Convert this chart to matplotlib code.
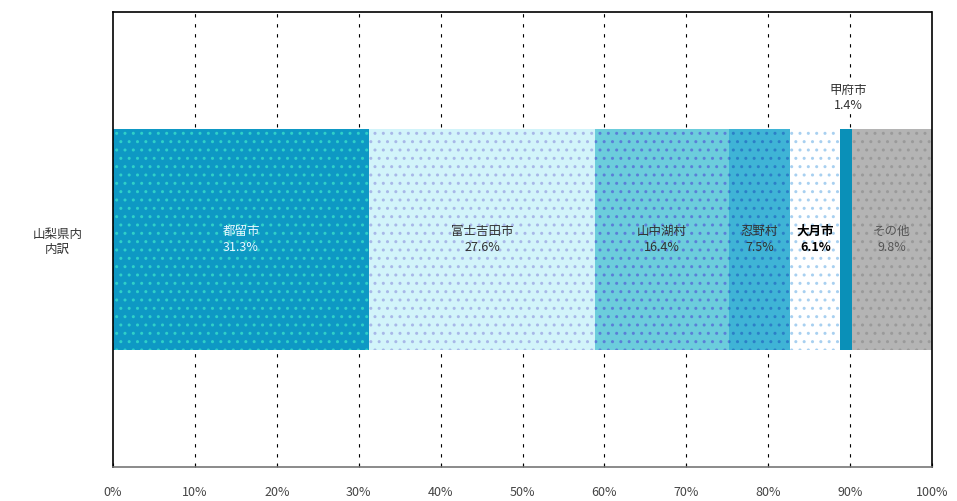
import matplotlib
matplotlib.use("Agg")
import matplotlib.pyplot as plt
import numpy as np

plt.rcParams['font.family'] = ['Noto Sans CJK JP', 'DejaVu Sans']

category = "山梨県内\n内訳"
names = ["都留市", "富士吉田市", "山中湖村", "忍野村", "大月市", "甲府市", "その他"]
values = [31.3, 27.6, 16.4, 7.5, 6.1, 1.4, 9.8]
colors = ["#0E98C4", "#D2F4FA", "#6CCDDC", "#3FB4D6", "#FFFFFF", "#0A90B8", "#B4B4B4"]
hatch_colors = ["#2FD0C8", "#A8B8E8", "#5A7FD8", "#2C7FC8", "#A8D0F0", "#0A90B8", "#9A9A9A"]
text_colors = ["#E8F8FF", "#333333", "#333333", "#333333", "#000000", "#333333", "#555555"]
xticks = [0, 10, 20, 30, 40, 50, 60, 70, 80, 90, 100]
xticklabels = [f"{t}%" for t in xticks]

fig = plt.figure(figsize=(9.57, 5.01), dpi=100)
ax = fig.add_axes([113/957, 1 - 467/501, (932-113)/957, (467-12)/501])

total = sum(values)
left = 0.0
bar_h = 220/455
for i, (n, v) in enumerate(zip(names, values)):
    w = v / total * 100
    ax.barh(0.5, w, left=left, height=bar_h, color=colors[i],
            edgecolor=hatch_colors[i], linewidth=0, hatch='..', zorder=2)
    cx = left + w / 2
    if n == "甲府市":
        ax.text(cx + 0.3, 0.5 + bar_h/2 + 0.07, f"{n}\n{v}%", ha='center', va='center',
                fontsize=9, color=text_colors[i], linespacing=1.2, zorder=4,
                bbox=dict(facecolor='white', edgecolor='none', pad=1))
    else:
        weight = 'bold' if n == "大月市" else 'normal'
        ax.text(cx, 0.5, f"{n}\n{v}%", ha='center', va='center', fontsize=9,
                color=text_colors[i], fontweight=weight, linespacing=1.3, zorder=4)
    left += w

ax.set_xlim(0, 100)
ax.set_ylim(0, 1)
ax.set_xticks(xticks)
ax.set_xticklabels(xticklabels, fontsize=9, color='#444444')
ax.set_yticks([0.5])
ax.set_yticklabels([category], fontsize=9, color='#333333', ha='center',
                   multialignment='center')
ax.tick_params(axis='y', length=0, pad=40)
ax.tick_params(axis='x', length=3, direction='in', pad=14)
for t in xticks[1:-1]:
    ax.axvline(t, color='black', linestyle=(0, (3, 6)), linewidth=0.8, zorder=1)
for s in ax.spines.values():
    s.set_linewidth(1.2)
    s.set_color('black')
ax.spines['top'].set_linestyle((0, (2, 1)))
ax.spines['bottom'].set_color('#777777')

fig.savefig("out.png", dpi=100)
